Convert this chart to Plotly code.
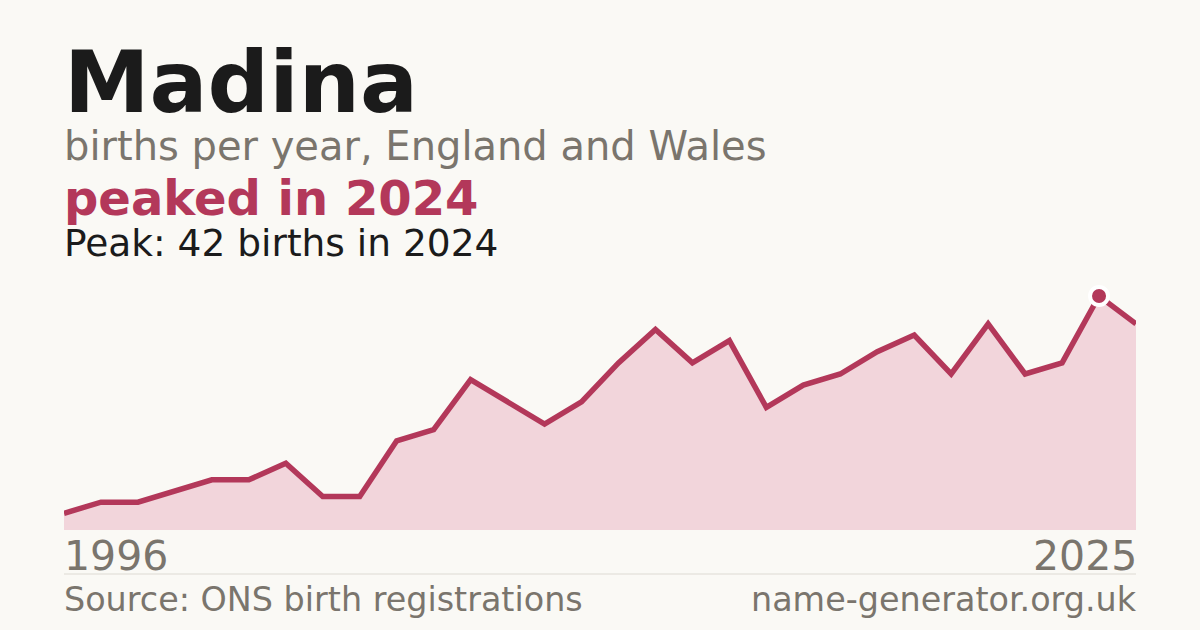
import plotly.graph_objects as go

years = list(range(1996, 2026))
births = [3, 5, 5, 7, 9, 9, 12, 6, 6, 16, 18, 27, 23, 19, 23, 30, 36, 30, 34, 22,
          26, 28, 32, 35, 28, 37, 28, 30, 42, 37]
peak_year = 2024
peak_value = 42

name = "Madina"
subtitle = "births per year, England and Wales"
headline = "peaked in 2024"
peak_text = "Peak: 42 births in 2024"
first_label = "1996"
last_label = "2025"
source_text = "Source: ONS birth registrations"
site_text = "name-generator.org.uk"

BG = "#faf9f5"
ACCENT = "#b3385a"
FILL = "#f2d5db"
GREY = "#7a756d"
DARK = "#1b1b1b"
FONT = "DejaVu Sans"

W, H = 1200, 630
L, R, T, B = 64, 64, 280, 100
plot_h = H - T - B


def py(pixel):
    # page pixel row -> paper y
    return (H - B - pixel) / plot_h


fig = go.Figure()
fig.add_trace(go.Scatter(
    x=years, y=births, mode="lines",
    line=dict(color=ACCENT, width=5.5),
    fill="tozeroy", fillcolor=FILL,
    hoverinfo="skip",
))
fig.add_trace(go.Scatter(
    x=[peak_year], y=[peak_value], mode="markers",
    marker=dict(color=ACCENT, size=18, line=dict(color="white", width=4)),
    hoverinfo="skip",
))

# left texts get a small pull left, right texts a push right (annotation padding)
annotations = [
    dict(text=f"<b>{name}</b>", x=0, y=py(82), xanchor="left", yanchor="middle",
         font=dict(size=86, color=DARK), xshift=-2),
    dict(text=subtitle, x=0, y=py(146), xanchor="left", yanchor="middle",
         font=dict(size=40, color=GREY), xshift=-2),
    dict(text=f"<b>{headline}</b>", x=0, y=py(198), xanchor="left", yanchor="middle",
         font=dict(size=48, color=ACCENT), xshift=-2),
    dict(text=peak_text, x=0, y=py(243), xanchor="left", yanchor="middle",
         font=dict(size=37.5, color=DARK), xshift=-2),
    dict(text=first_label, x=0, y=py(556), xanchor="left", yanchor="middle",
         font=dict(size=41, color=GREY), xshift=-2),
    dict(text=last_label, x=1, y=py(556), xanchor="right", yanchor="middle",
         font=dict(size=41, color=GREY), xshift=3),
    dict(text=source_text, x=0, y=py(599), xanchor="left", yanchor="middle",
         font=dict(size=33.4, color=GREY), xshift=-2),
    dict(text=site_text, x=1, y=py(599), xanchor="right", yanchor="middle",
         font=dict(size=33.4, color=GREY), xshift=3),
]
for a in annotations:
    a.update(xref="paper", yref="paper", showarrow=False)

fig.update_layout(
    width=W, height=H,
    margin=dict(l=L, r=R, t=T, b=B, pad=0),
    paper_bgcolor=BG, plot_bgcolor=BG,
    font=dict(family=FONT),
    showlegend=False,
    annotations=annotations,
    shapes=[dict(type="line", xref="paper", yref="paper", x0=0, x1=1,
                 y0=py(574), y1=py(574), line=dict(color="#dddad3", width=1))],
)
fig.update_xaxes(range=[1996, 2025], visible=False, fixedrange=True)
fig.update_yaxes(range=[0, 44.87], visible=False, fixedrange=True)

fig.write_html("out.html", config={"displayModeBar": False},
               post_script="document.body.style.margin='0';")
